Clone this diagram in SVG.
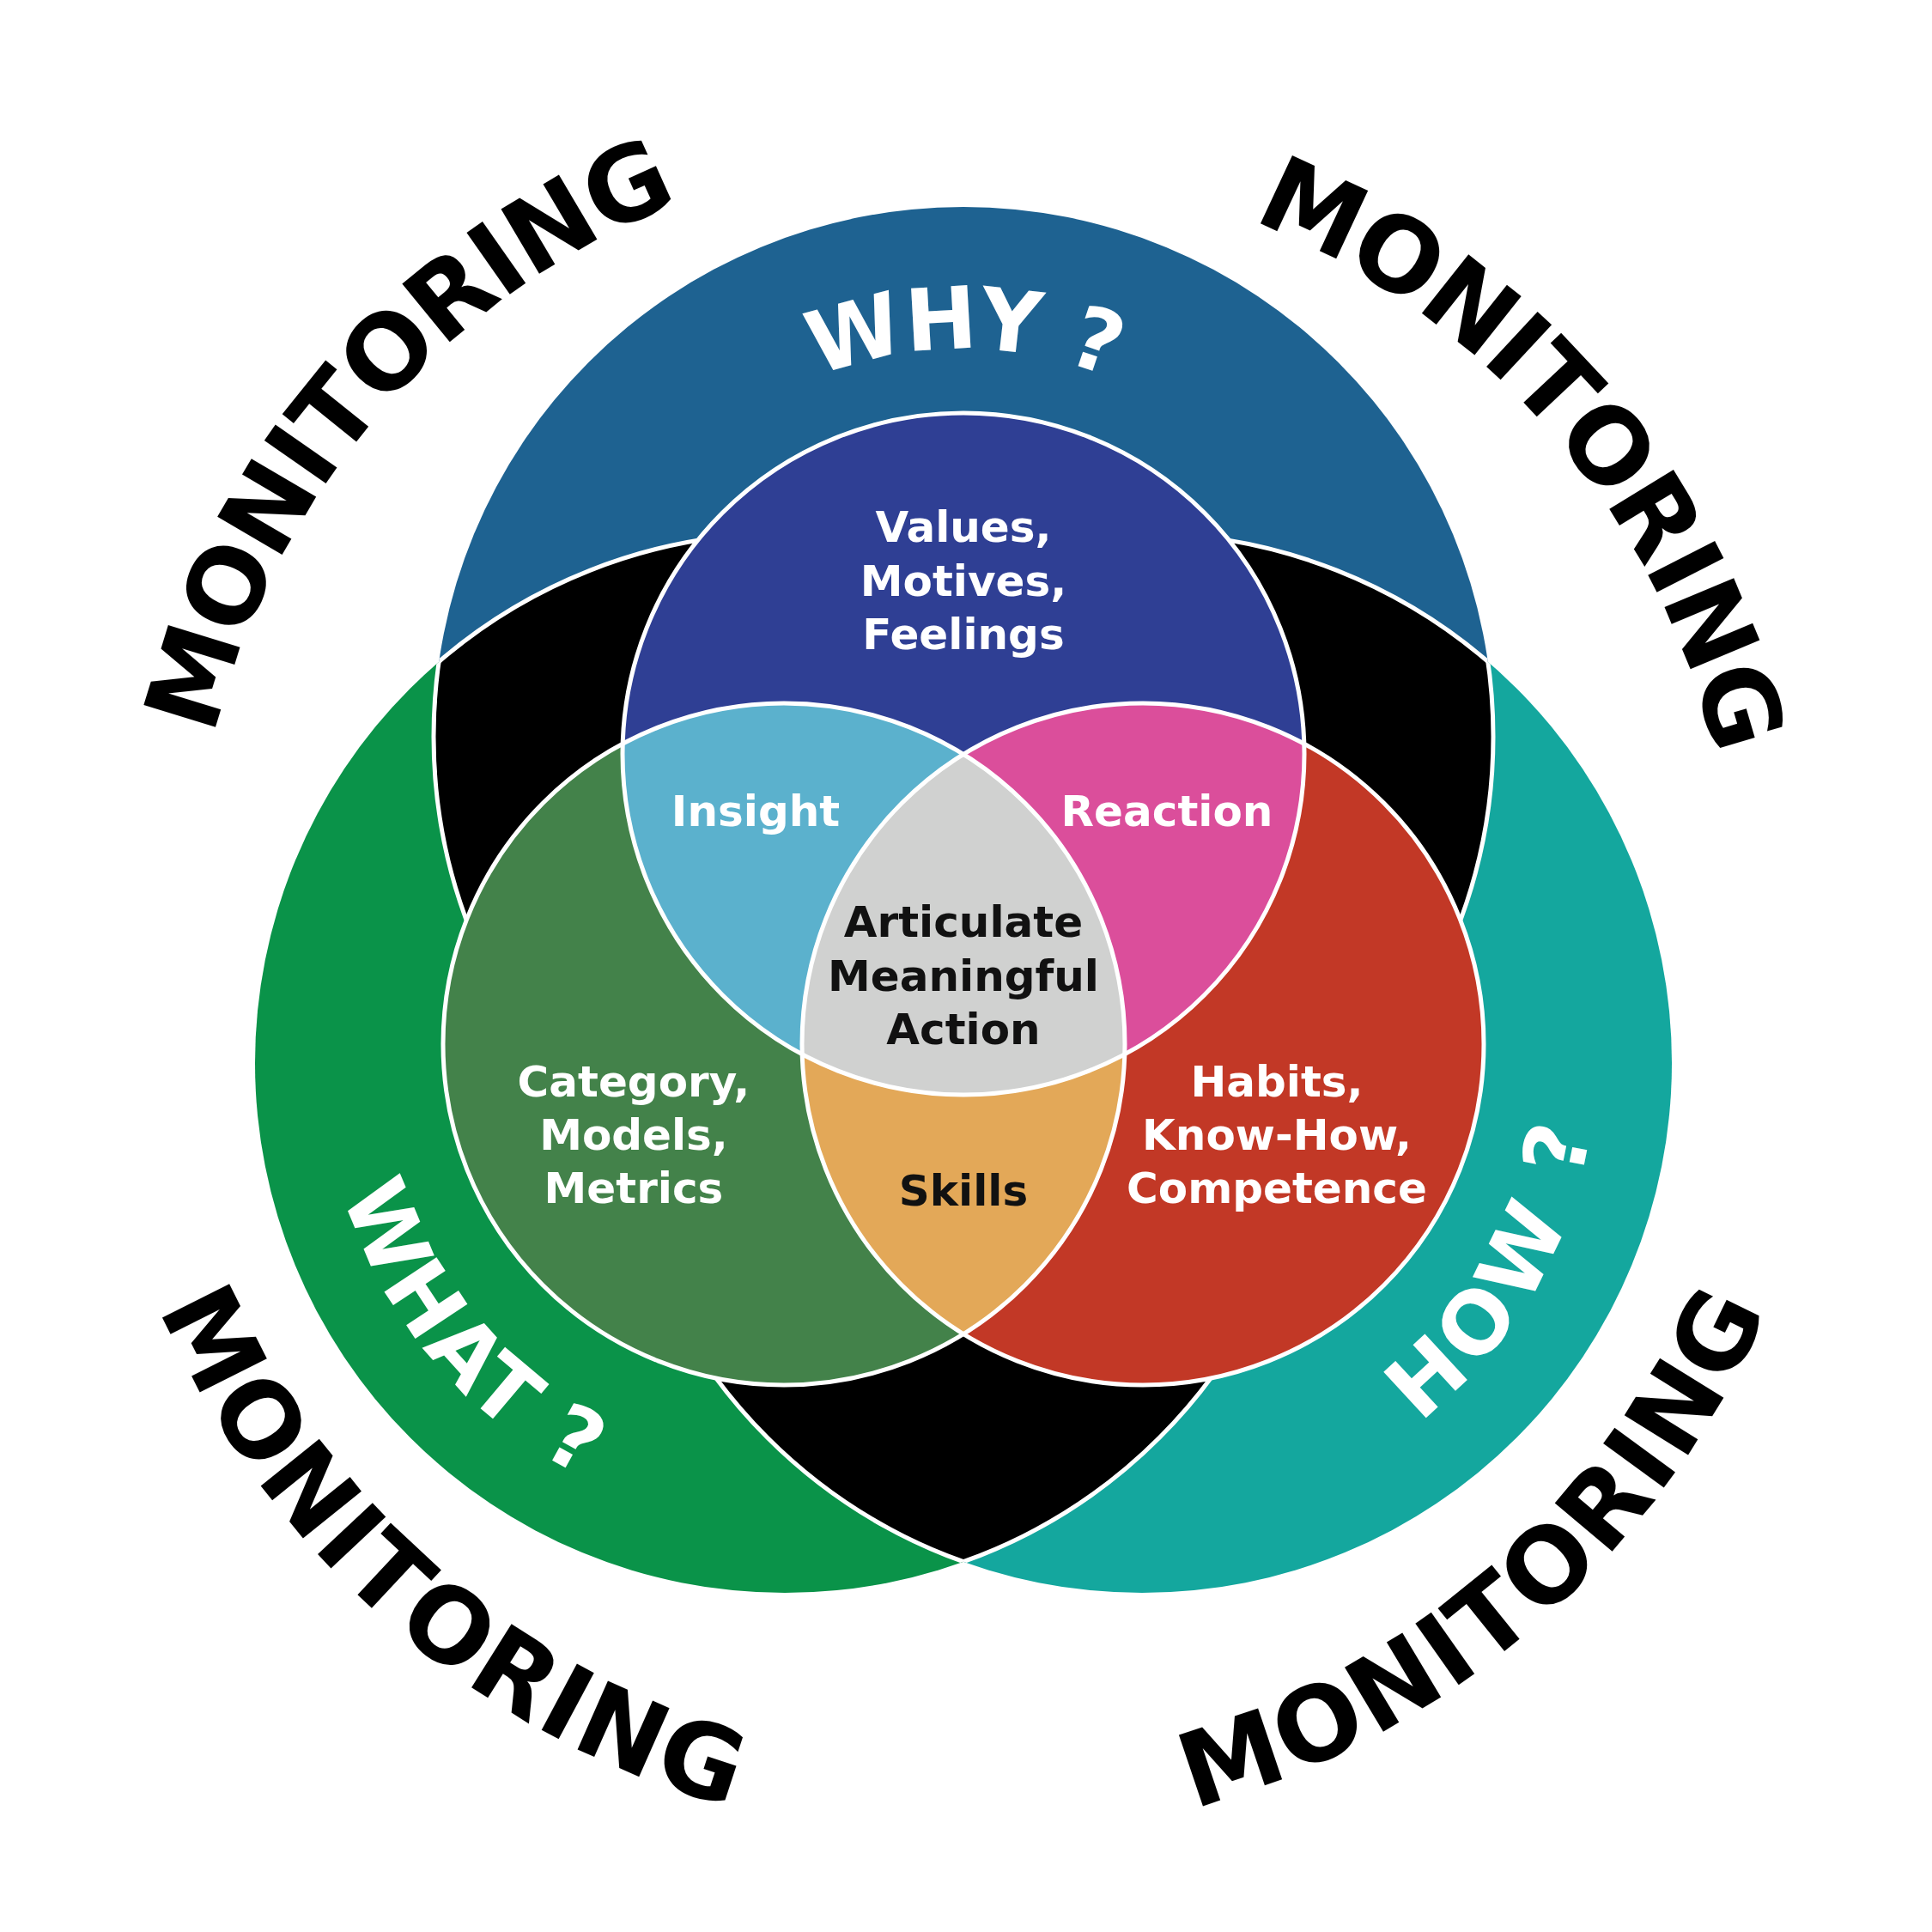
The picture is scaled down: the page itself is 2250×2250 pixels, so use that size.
<svg xmlns="http://www.w3.org/2000/svg" xmlns:xlink="http://www.w3.org/1999/xlink" width="2250" height="2250" viewBox="0 0 2250 2250">
<style>
.lbl{font-family:"DejaVu Sans","Liberation Sans",sans-serif;font-weight:700;font-size:50px;text-anchor:middle;fill:#ffffff}
.dark{fill:#111111}
.q{font-family:"DejaVu Sans","Liberation Sans",sans-serif;font-weight:700;font-size:100px;fill:#ffffff}
.mon{font-family:"DejaVu Sans","Liberation Sans",sans-serif;font-weight:700;font-size:120px;fill:#000000}
.ws{fill:none;stroke:#ffffff;stroke-width:5}
</style>
<defs>
<clipPath id="cBlue"><circle cx="1122" cy="858" r="617"/></clipPath>
<clipPath id="cGreen"><circle cx="914" cy="1238" r="617"/></clipPath>
<clipPath id="cGT"><circle cx="914" cy="1238" r="617"/><circle cx="1330" cy="1238" r="617"/></clipPath>
<clipPath id="cBT"><circle cx="1122" cy="858" r="617"/><circle cx="1330" cy="1238" r="617"/></clipPath>
<clipPath id="cBG"><circle cx="1122" cy="858" r="617"/><circle cx="914" cy="1238" r="617"/></clipPath>
<clipPath id="cP"><circle cx="1122" cy="878" r="397"/></clipPath>
<clipPath id="cG"><circle cx="913" cy="1216" r="397"/></clipPath>
<path id="pWhy" d="M 670 858 A 452 452 0 0 1 1122 406 A 452 452 0 0 1 1574 858"/>
<path id="pWhat" d="M 565.9 830.4 A 536 536 0 0 0 506.4 1586.1 A 536 536 0 0 0 1262.1 1645.6"/>
<path id="pHow" d="M 1066 1695.3 A 528 528 0 0 0 1787.3 1502 A 528 528 0 0 0 1594 780.7"/>
<path id="pMonTL" d="M 530.4 1728.9 A 885 885 0 0 1 443.1 480.4 A 885 885 0 0 1 1691.6 393.1"/>
<path id="pMonTR" d="M 555.4 414.1 A 885 885 0 0 1 1803.9 501.4 A 885 885 0 0 1 1716.6 1749.9"/>
<path id="pMonBL" d="M 353 453.4 A 1019 1019 0 0 0 453.4 1891 A 1019 1019 0 0 0 1891 1790.6"/>
<path id="pMonBR" d="M 353 1790.6 A 1019 1019 0 0 0 1790.6 1891 A 1019 1019 0 0 0 1891 453.4"/>
</defs>
<rect width="2250" height="2250" fill="#ffffff"/>

<g id="outer-circles">
<circle id="why-circle" cx="1122" cy="858" r="617" fill="#1e6291"/>
<circle id="what-circle" cx="914" cy="1238" r="617" fill="#0a9349"/>
<circle id="how-circle" cx="1330" cy="1238" r="617" fill="#14a79e"/>
</g>
<g id="black-overlaps">
<circle cx="914" cy="1238" r="617" fill="#000000" clip-path="url(#cBlue)"/>
<circle cx="1330" cy="1238" r="617" fill="#000000" clip-path="url(#cBlue)"/>
<circle cx="1330" cy="1238" r="617" fill="#000000" clip-path="url(#cGreen)"/>
</g>
<g id="outer-outlines">
<circle class="ws" cx="1122" cy="858" r="617" clip-path="url(#cGT)"/>
<circle class="ws" cx="914" cy="1238" r="617" clip-path="url(#cBT)"/>
<circle class="ws" cx="1330" cy="1238" r="617" clip-path="url(#cBG)"/>
</g>

<g id="inner-circles">
<circle id="values" cx="1122" cy="878" r="397" fill="#2f3f94"/>
<circle id="category" cx="913" cy="1216" r="397" fill="#43824a"/>
<circle id="habits" cx="1331" cy="1216" r="397" fill="#c23826"/>
</g>
<g id="inner-overlaps">
<circle id="insight" cx="913" cy="1216" r="397" fill="#5bb1cd" clip-path="url(#cP)"/>
<circle id="reaction" cx="1331" cy="1216" r="397" fill="#db4e9b" clip-path="url(#cP)"/>
<circle id="skills" cx="1331" cy="1216" r="397" fill="#e3a858" clip-path="url(#cG)"/>
<g id="action" clip-path="url(#cP)"><circle cx="1331" cy="1216" r="397" fill="#d0d1d0" clip-path="url(#cG)"/></g>
</g>
<g id="inner-outlines">
<circle class="ws" cx="1122" cy="878" r="397"/>
<circle class="ws" cx="913" cy="1216" r="397"/>
<circle class="ws" cx="1331" cy="1216" r="397"/>
</g>

<g id="label-values">
<text class="lbl" x="1122" y="631">Values,</text>
<text class="lbl" x="1122" y="694">Motives,</text>
<text class="lbl" x="1122" y="756">Feelings</text>
</g>
<g id="label-insight"><text class="lbl" x="880" y="962">Insight</text></g>
<g id="label-reaction"><text class="lbl" x="1359" y="962">Reaction</text></g>
<g id="label-action">
<text class="lbl dark" x="1122" y="1091">Articulate</text>
<text class="lbl dark" x="1122" y="1154">Meaningful</text>
<text class="lbl dark" x="1122" y="1216">Action</text>
</g>
<g id="label-category">
<text class="lbl" x="738" y="1277">Category,</text>
<text class="lbl" x="738" y="1339">Models,</text>
<text class="lbl" x="738" y="1401">Metrics</text>
</g>
<g id="label-skills"><text class="lbl dark" x="1122" y="1404">Skills</text></g>
<g id="label-habits">
<text class="lbl" x="1487" y="1277">Habits,</text>
<text class="lbl" x="1487" y="1339">Know-How,</text>
<text class="lbl" x="1487" y="1401">Competence</text>
</g>

<g id="label-why"><text class="q" letter-spacing="-2"><textPath xlink:href="#pWhy" href="#pWhy" startOffset="50%" text-anchor="middle">WHY ?</textPath></text></g>
<g id="label-what"><text class="q" letter-spacing="4"><textPath xlink:href="#pWhat" href="#pWhat" startOffset="50%" text-anchor="middle">WHAT ?</textPath></text></g>
<g id="label-how"><text class="q" letter-spacing="8"><textPath xlink:href="#pHow" href="#pHow" startOffset="50%" text-anchor="middle">HOW ?</textPath></text></g>

<g id="monitoring">
<text class="mon" letter-spacing="-3"><textPath xlink:href="#pMonTL" href="#pMonTL" startOffset="50%" text-anchor="middle">MONITORING</textPath></text>
<text class="mon" letter-spacing="-3"><textPath xlink:href="#pMonTR" href="#pMonTR" startOffset="50%" text-anchor="middle">MONITORING</textPath></text>
<text class="mon" letter-spacing="3"><textPath xlink:href="#pMonBL" href="#pMonBL" startOffset="50%" text-anchor="middle">MONITORING</textPath></text>
<text class="mon" letter-spacing="3"><textPath xlink:href="#pMonBR" href="#pMonBR" startOffset="50%" text-anchor="middle">MONITORING</textPath></text>
</g>
<g id="connectors"/>
</svg>
